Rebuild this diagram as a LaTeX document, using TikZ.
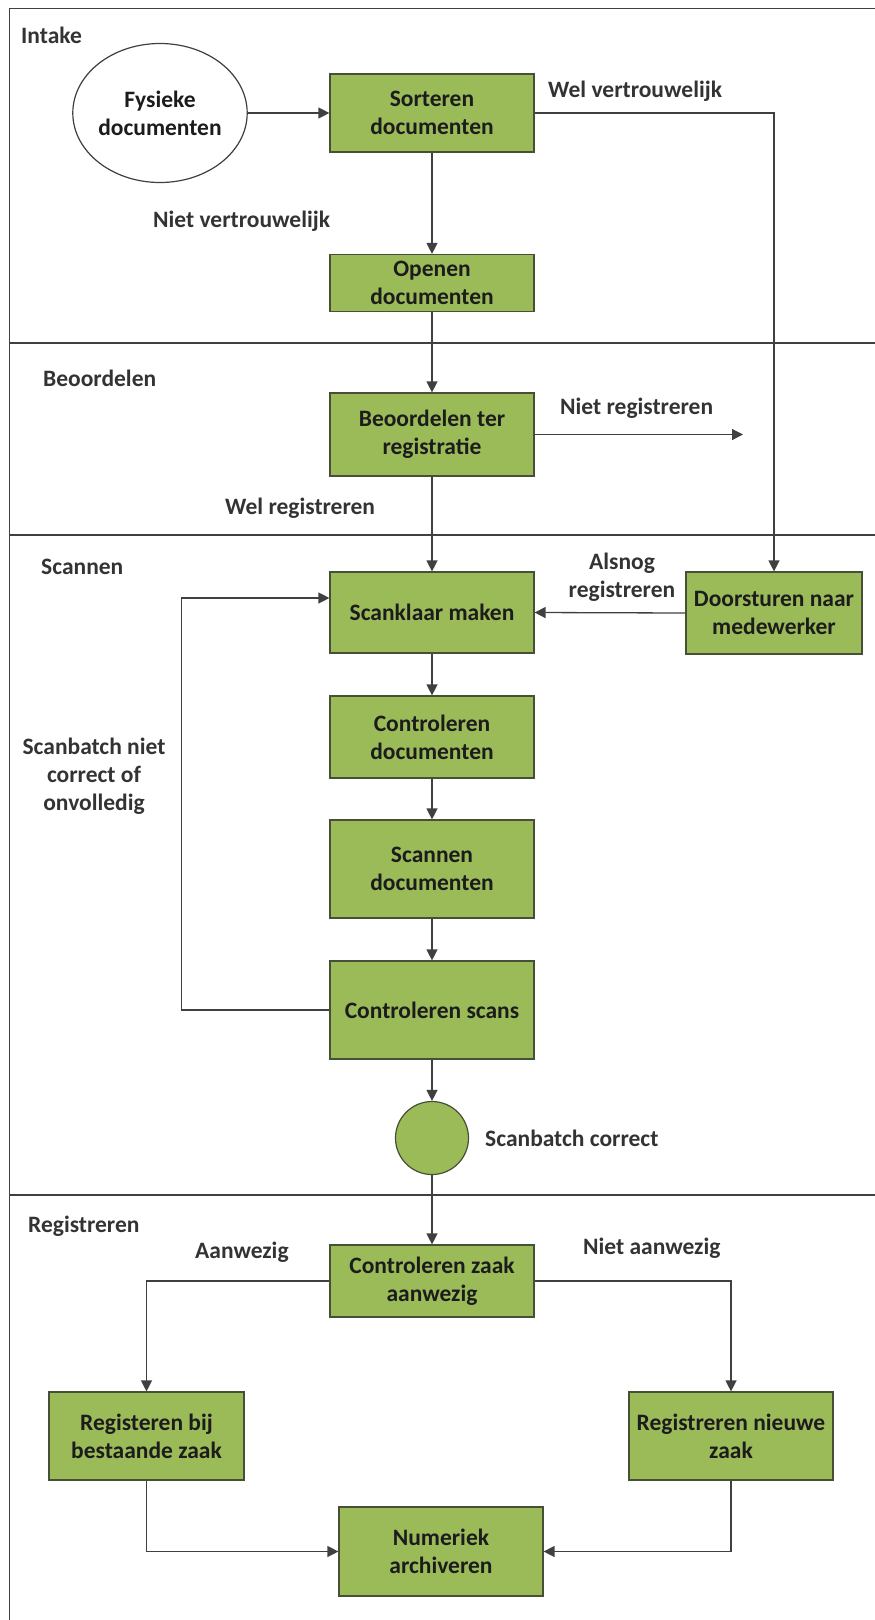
\documentclass[tikz,border=0pt]{standalone}
\usepackage{fontspec}
\setmainfont{Carlito}
\usepackage{tikz}
\usetikzlibrary{shapes.geometric, arrows.meta, positioning, calc}
\definecolor{taakgroen}{RGB}{155,187,89}
\definecolor{taakrand}{RGB}{70,80,55}
\definecolor{mydark}{RGB}{64,64,64}
\definecolor{tekstzwart}{RGB}{28,28,28}
\tikzset{
  taak/.style={rectangle, draw=taakrand, fill=taakgroen, minimum width=204pt,
    align=center, font=\bfseries\fontsize{23.5}{28}\selectfont, text=tekstzwart,
    line width=1.2pt, inner sep=0pt},
  tekst/.style={inner sep=0pt, align=center, text=tekstzwart!90!white,
    font=\bfseries\fontsize{23.5}{28}\selectfont},
  pijl/.style={-{Triangle[length=11pt,width=11pt]}, line width=1.3pt, color=mydark},
  lijn/.style={line width=1.3pt, color=mydark},
  baan/.style={line width=1.8pt, color=mydark}
}

\begin{document}
\begin{tikzpicture}[x=1pt, y=-1pt]
    \useasboundingbox (0,0) rectangle (875,1620);
    % lanes
    \draw[baan] (875,8.5) -- (9.5,8.5) -- (9.5,1620);
    \draw[baan] (9.5,343) -- (875,343);
    \draw[baan] (9.5,535) -- (875,535);
    \draw[baan] (9.5,1195) -- (875,1195);
    \node[tekst, anchor=west] (intake) at (21,35) {Intake};
    \node[tekst, anchor=west] (beoordelenlbl) at (43,378) {Beoordelen};
    \node[tekst, anchor=west] (scannenlbl) at (41,567) {Scannen};
    \node[tekst, anchor=west] (registrerenlbl) at (28,1226) {Registreren};

    % tasks
    \node[ellipse, draw=mydark, fill=white, line width=1.2pt, minimum width=164pt,
      minimum height=139pt, inner sep=0pt, align=center, text=tekstzwart,
      font=\bfseries\fontsize{23.5}{28}\selectfont] (fysiek) at (160,113) {Fysieke\\documenten};
    \node[taak, minimum height=78pt] (sorteren) at (432,113) {Sorteren\\documenten};
    \node[taak, minimum height=57pt] (openen) at (432,283) {Openen\\documenten};
    \node[taak, minimum height=83pt] (beoordelen) at (432,434.5) {Beoordelen ter\\registratie};
    \node[taak, minimum height=81pt] (scanklaar) at (432,612.5) {Scanklaar maken};
    \node[taak, minimum width=176pt, minimum height=82pt] (doorsturen) at (774,613) {Doorsturen naar\\medewerker};
    \node[taak, minimum height=82pt] (controledoc) at (432,737) {Controleren\\documenten};
    \node[taak, minimum height=98pt] (scannendoc) at (432,869) {Scannen\\documenten};
    \node[taak, minimum height=98pt] (scans) at (432,1010) {Controleren scans};
    \node[circle, draw=taakrand, fill=taakgroen, line width=1.2pt, minimum size=73pt,
      inner sep=0pt] (correct) at (432,1138) {};
    \node[taak, minimum height=72pt] (zaak) at (432,1281) {Controleren zaak\\aanwezig};
    \node[taak, minimum width=195pt, minimum height=88pt] (bestaand) at (146.5,1436) {Registeren bij\\bestaande zaak};
    \node[taak, minimum height=88pt] (nieuw) at (731,1436) {Registreren nieuwe\\zaak};
    \node[taak, minimum height=89pt] (archief) at (441,1551.5) {Numeriek\\archiveren};
    \coordinate (nietreg) at (743,434.5);

    % labels
    \node[tekst, anchor=west] (welvert) at (548,91) {Wel vertrouwelijk};
    \node[tekst, anchor=west] (nietvert) at (153,221) {Niet vertrouwelijk};
    \node[tekst, anchor=west] (nietreglbl) at (560,408) {Niet registreren};
    \node[tekst, anchor=west] (welreg) at (225,508) {Wel registreren};
    \node[tekst] (alsnog) at (622,577) {Alsnog\\registreren};
    \node[tekst] (nietcorrect) at (94,776) {Scanbatch niet\\correct of\\onvolledig};
    \node[tekst, anchor=west] (correctlbl) at (485,1138) {Scanbatch correct};
    \node[tekst, anchor=west] (aanwezig) at (195,1252) {Aanwezig};
    \node[tekst, anchor=west] (nietaanwezig) at (583,1248) {Niet aanwezig};

    % connectors
    \draw[pijl] (fysiek.east) -- (sorteren.west);
    \draw[pijl] (sorteren) -- (openen);
    \draw[pijl] (sorteren.east) -| (doorsturen.north);
    \draw[pijl] (openen) -- (beoordelen);
    \draw[pijl] (beoordelen.east) -- (nietreg);
    \draw[pijl] (beoordelen) -- (scanklaar);
    \draw[pijl] (doorsturen.west) -- (scanklaar.east);
    \draw[pijl] (scanklaar) -- (controledoc);
    \draw[pijl] (controledoc) -- (scannendoc);
    \draw[pijl] (scannendoc) -- (scans);
    \draw[pijl] (scans.west) -- ++(-148,0) |- ([yshift=14.5pt]scanklaar.west);
    \draw[pijl] (scans) -- (correct);
    \draw[pijl] (correct) -- (zaak);
    \draw[pijl] (zaak.west) -| (bestaand.north);
    \draw[pijl] (zaak.east) -| (nieuw.north);
    \draw[pijl] (bestaand.south) |- (archief.west);
    \draw[pijl] (nieuw.south) |- (archief.east);
\end{tikzpicture}
\end{document}
